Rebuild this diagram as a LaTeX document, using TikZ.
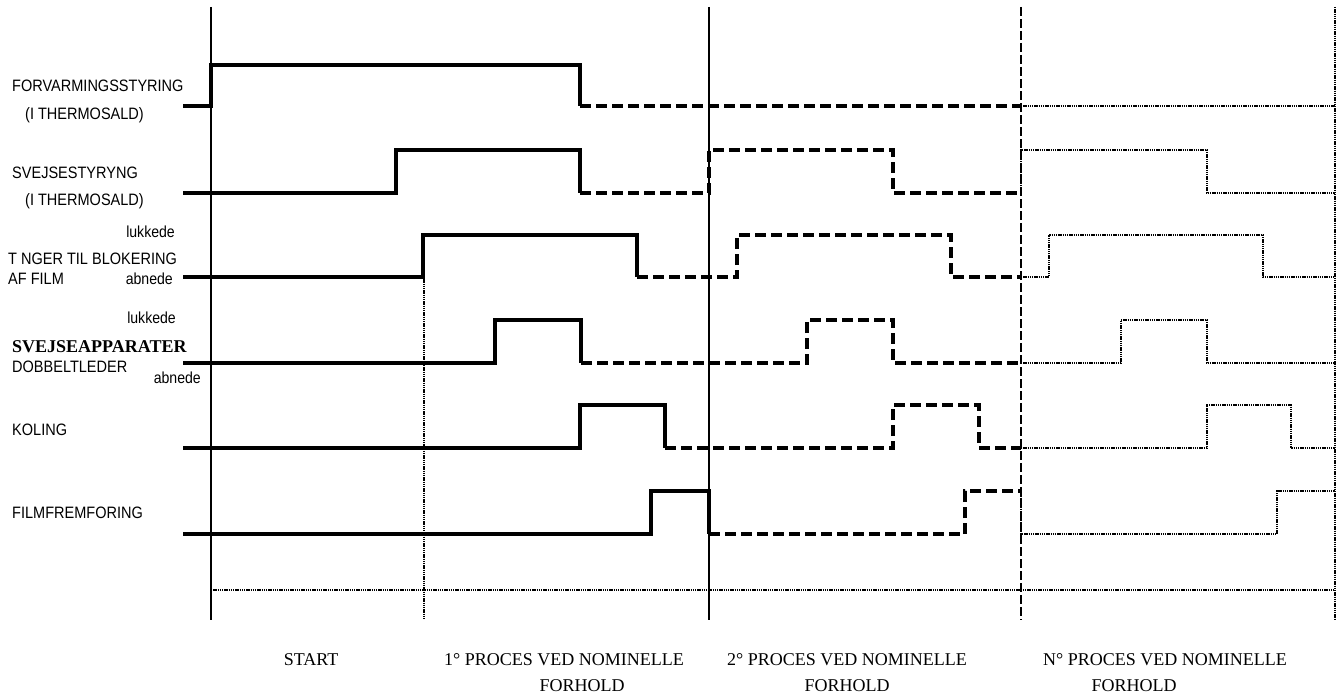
\documentclass[tikz,border=0pt]{standalone}
\usepackage{fontspec}
\newfontfamily\labfont{Liberation Sans}[FakeStretch=0.88]
\newfontfamily\serfont{Liberation Serif}
\begin{document}
\begin{tikzpicture}[x=1bp,y=-1bp,
  sig/.style={line width=3.2bp, line join=miter},
  sigdash/.style={line width=3.2bp, line join=miter, dash pattern=on 11bp off 5bp},
  sigdot/.style={line width=1.7bp, dash pattern=on 1.4bp off 0.8bp},
  vsolid/.style={line width=1.5bp},
  vdash/.style={line width=1.6bp, dash pattern=on 9bp off 3bp},
  vdot/.style={line width=1.7bp, dash pattern=on 1.4bp off 0.8bp},
  lab/.style={inner sep=0pt, font=\labfont\fontsize{16.5bp}{18bp}\selectfont},
  small/.style={inner sep=0pt, font=\labfont\fontsize{16bp}{18bp}\selectfont},
  ser/.style={inner sep=0pt, font=\serfont\fontsize{18bp}{20bp}\selectfont},
  serb/.style={inner sep=0pt, font=\serfont\bfseries\fontsize{18bp}{20bp}\selectfont}]
\useasboundingbox (0,0) rectangle (1344,698);

% vertical phase lines
\draw[vsolid] (211,7) -- (211,620);
\draw[vdot] (424,277) -- (424,620);
\draw[vsolid] (709,7) -- (709,620);
\draw[vdash] (1021,7) -- (1021,620);
\draw[vdot] (1335,7) -- (1335,620);
\draw[vdot] (211,590) -- (1335,590);

% signal 1 FORVARMINGSSTYRING
\draw[sig] (183,106) -- (211,106) -- (211,65) -- (580,65) -- (580,106);
\draw[sigdash] (580,106) -- (1021,106);
\draw[sigdot] (1021,106) -- (1335,106);

% signal 2 SVEJSESTYRYNG
\draw[sig] (183,193) -- (396,193) -- (396,150) -- (580,150) -- (580,193);
\draw[sigdash] (580,193) -- (709,193) -- (709,150) -- (893,150) -- (893,193) -- (1021,193);
\draw[sigdot] (1021,193) -- (1021,150) -- (1207,150) -- (1207,193) -- (1335,193);

% signal 3 TANGER
\draw[sig] (183,277) -- (423,277) -- (423,235) -- (637,235) -- (637,277);
\draw[sigdash] (637,277) -- (737,277) -- (737,235) -- (951,235) -- (951,277) -- (1021,277);
\draw[sigdot] (1021,277) -- (1049,277) -- (1049,235) -- (1263,235) -- (1263,277) -- (1335,277);

% signal 4 SVEJSEAPPARATER
\draw[sig] (183,363) -- (495,363) -- (495,320) -- (581,320) -- (581,363);
\draw[sigdash] (581,363) -- (807,363) -- (807,320) -- (893,320) -- (893,363) -- (1021,363);
\draw[sigdot] (1021,363) -- (1121,363) -- (1121,320) -- (1207,320) -- (1207,363) -- (1335,363);

% signal 5 KOLING
\draw[sig] (183,448) -- (580,448) -- (580,405) -- (665,405) -- (665,448);
\draw[sigdash] (665,448) -- (893,448) -- (893,405) -- (979,405) -- (979,448) -- (1021,448);
\draw[sigdot] (1021,448) -- (1207,448) -- (1207,405) -- (1291,405) -- (1291,448) -- (1335,448);

% signal 6 FILMFREMFORING
\draw[sig] (183,534) -- (651,534) -- (651,491) -- (709,491) -- (709,534);
\draw[sigdash] (709,534) -- (965,534) -- (965,491) -- (1021,491);
\draw[sigdot] (1021,491) -- (1021,534) -- (1277,534) -- (1277,491) -- (1335,491);

% left labels
\node[lab, anchor=base west] (l1) at (12,92) {FORVARMINGSSTYRING};
\node[lab, anchor=base west] (l1b) at (25,120) {(I THERMOSALD)};
\node[lab, anchor=base west] (l2) at (12,178) {SVEJSESTYRYNG};
\node[lab, anchor=base west] (l2b) at (25,205) {(I THERMOSALD)};
\node[small, anchor=base east] (l3u) at (175,237) {lukkede};
\node[lab, anchor=base west] (l3) at (8,264) {T NGER TIL BLOKERING};
\node[lab, anchor=base west] (l3b) at (8,284) {AF FILM};
\node[small, anchor=base east] (l3a) at (173,284) {abnede};
\node[small, anchor=base east] (l4u) at (176,323) {lukkede};
\node[serb, anchor=base west] (l4) at (12,352) {SVEJSEAPPARATER};
\node[lab, anchor=base west] (l4b) at (12,372) {DOBBELTLEDER};
\node[small, anchor=base east] (l4a) at (201,383) {abnede};
\node[lab, anchor=base west] (l5) at (12,435) {KOLING};
\node[lab, anchor=base west] (l6) at (12,518) {FILMFREMFORING};

% bottom phase labels
\node[ser, anchor=base] (p0) at (311,665) {START};
\node[ser, anchor=base] (p1) at (564,665) {1° PROCES VED NOMINELLE};
\node[ser, anchor=base] (p1b) at (582,691) {FORHOLD};
\node[ser, anchor=base] (p2) at (847,665) {2° PROCES VED NOMINELLE};
\node[ser, anchor=base] (p2b) at (847,691) {FORHOLD};
\node[ser, anchor=base] (p3) at (1165,665) {N° PROCES VED NOMINELLE};
\node[ser, anchor=base] (p3b) at (1134,691) {FORHOLD};
\end{tikzpicture}
\end{document}
